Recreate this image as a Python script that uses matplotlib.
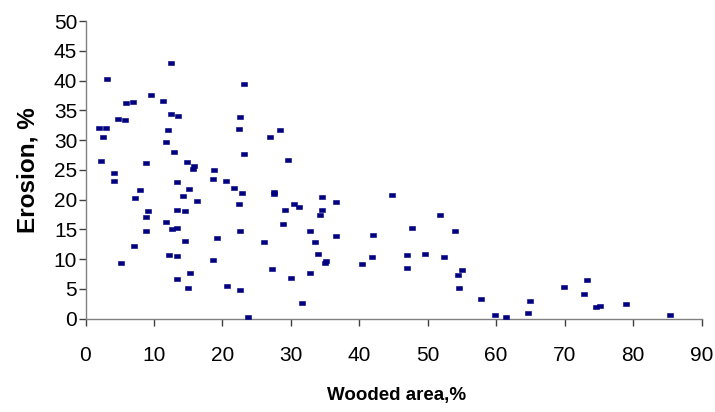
import matplotlib
matplotlib.use("Agg")
import matplotlib.pyplot as plt

wooded_area = [2.0, 3.0, 2.5, 2.3, 3.1, 4.7, 5.7, 5.9, 7.0, 9.5, 11.3, 12.5, 12.5, 13.5, 12.0,
               11.8, 13.0, 8.9, 14.9, 15.8, 15.7, 18.8, 23.1, 22.5, 22.4, 23.2, 4.1, 4.1, 5.2,
               7.2, 7.9, 7.1, 8.8, 9.1, 8.9, 11.8, 12.6, 13.4, 12.2, 13.4, 13.4, 13.3, 13.4,
               14.2, 14.6, 14.6, 15.1, 16.3, 15.3, 15.0, 18.6, 19.2, 18.6, 20.5, 21.7, 22.8,
               22.4, 22.6, 20.7, 22.6, 23.7, 28.4, 27.0, 29.6, 27.5, 27.6, 26.1, 27.3, 28.8,
               29.2, 30.4, 31.2, 30.0, 31.7, 32.8, 33.6, 33.9, 32.8, 35.1, 35.0, 34.6, 34.5,
               34.3, 36.6, 36.6, 40.4, 41.9, 42.0, 44.8, 47.7, 47.0, 47.0, 49.6, 51.8, 52.4,
               54.0, 55.0, 54.4, 54.6, 57.8, 59.9, 61.4, 64.7, 65.0, 69.9, 73.3, 72.8, 74.6,
               75.2, 78.9, 85.4]
erosion = [32.1, 32.1, 30.6, 26.5, 40.2, 33.5, 33.4, 36.2, 36.4, 37.6, 36.6, 42.9, 34.4, 34.0, 31.7,
           29.7, 28.0, 26.1, 26.4, 25.7, 25.2, 24.9, 39.5, 33.8, 31.9, 27.6, 24.5, 23.1, 9.4,
           20.3, 21.6, 12.2, 17.1, 18.1, 14.7, 16.2, 15.1, 15.3, 10.7, 10.6, 6.7, 23.0, 18.3,
           20.6, 18.1, 13.0, 21.8, 19.8, 7.6, 5.1, 23.5, 13.5, 9.8, 23.1, 22.0, 21.1,
           19.2, 14.8, 5.5, 4.9, 0.3, 31.7, 30.5, 26.7, 21.0, 21.3, 12.8, 8.3, 15.9,
           18.2, 19.2, 18.8, 6.8, 2.7, 14.8, 12.9, 10.9, 7.6, 9.7, 9.3, 20.5, 18.3,
           17.4, 19.6, 13.9, 9.2, 10.3, 14.1, 20.7, 15.2, 10.7, 8.5, 10.9, 17.4, 10.3,
           14.8, 8.2, 7.3, 5.2, 3.3, 0.7, 0.3, 1.0, 2.9, 5.3, 6.5, 4.1, 2.0,
           2.1, 2.4, 0.6]

x_ticks = [0, 10, 20, 30, 40, 50, 60, 70, 80, 90]
y_ticks = [0, 5, 10, 15, 20, 25, 30, 35, 40, 45, 50]
x_label = "Wooded area,%"
y_label = "Erosion, %"

plt.rcParams['font.family'] = ['Liberation Sans', 'DejaVu Sans']

fig = plt.figure(figsize=(7.15, 4.12), dpi=100)
ax = fig.add_axes([85.5 / 715, 93.3 / 412, 616 / 715, 297.7 / 412])

rect = [(-1.5, -1), (1.5, -1), (1.5, 1), (-1.5, 1), (-1.5, -1)]
ax.plot(wooded_area, erosion, linestyle='none', marker=rect, markersize=4.6,
        color='#000080', markeredgewidth=0.4, clip_on=False, zorder=3)

ax.set_xlim(0, 90)
ax.set_ylim(0, 50)
ax.set_xticks(x_ticks)
ax.set_yticks(y_ticks)
for s in ['top', 'right']:
    ax.spines[s].set_visible(False)
for s in ['left', 'bottom']:
    ax.spines[s].set_color('#808080')
    ax.spines[s].set_linewidth(1.0)
ax.tick_params(axis='x', direction='out', length=5, width=1, color='#404040',
               labelsize=15, pad=15)
ax.tick_params(axis='y', direction='out', length=5, width=1, color='#404040',
               labelsize=15, pad=1)

ax.set_xlabel(x_label, fontsize=13.5, fontweight='bold', va='top')
ax.xaxis.set_label_coords(0.505, -0.23)
ax.set_ylabel(y_label, fontsize=17.5, fontweight='bold')
ax.yaxis.set_label_coords(-0.075, 0.5)

fig.savefig("out.png", dpi=100)
